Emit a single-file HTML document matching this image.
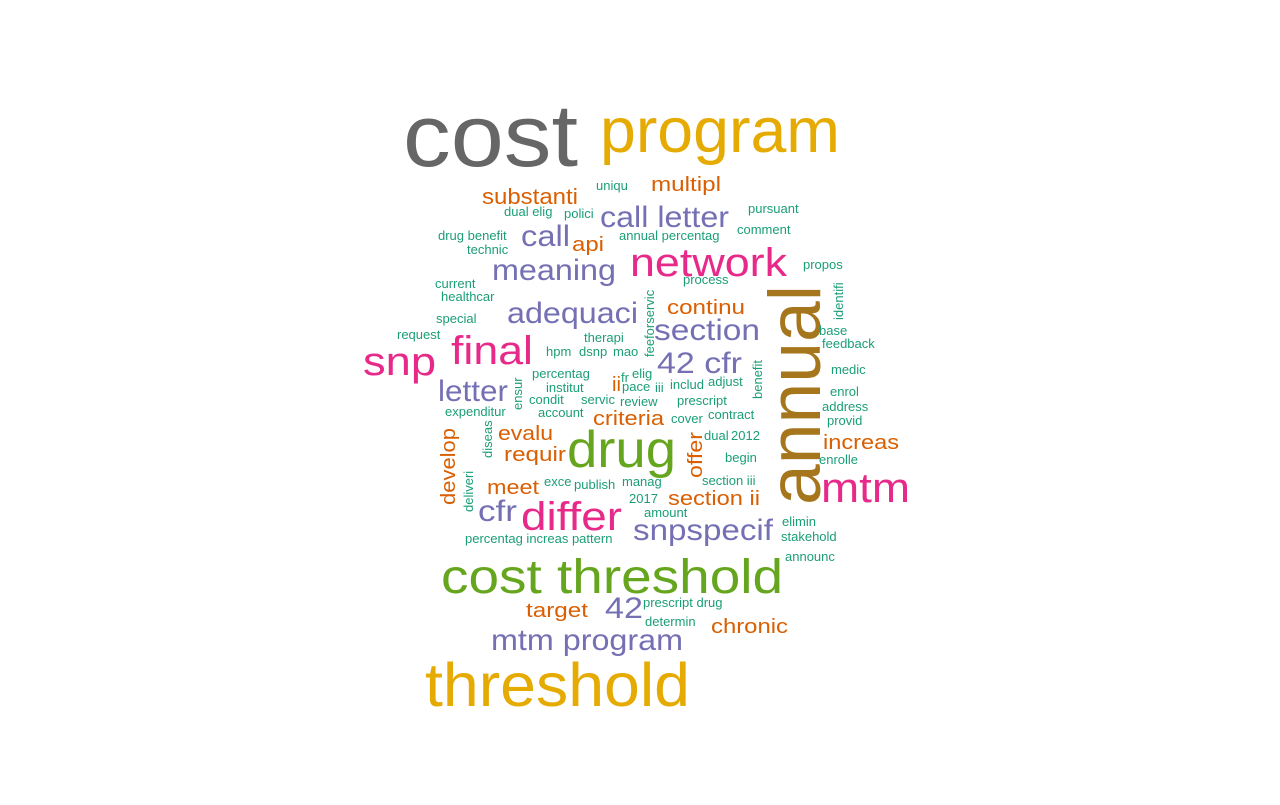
<!DOCTYPE html>
<html><head><meta charset="utf-8"><style>
html,body{margin:0;padding:0;background:#fff;}
svg text{font-family:"Liberation Sans",Arial,sans-serif;}
</style></head><body>
<svg id="cloud" width="1280" height="800" viewBox="0 0 1280 800"></svg>
<script>
// words, colour keys, font sizes, [left x, baseline y, width, rotated]
const words = ["cost","program","threshold","annual","cost threshold","drug","network","mtm","snp","final","differ",
"call letter","call","meaning","adequaci","section","42 cfr","letter","cfr","snpspecif","42","mtm program",
"substanti","multipl","api","continu","ii","criteria","evalu","requir","meet","develop","offer","section ii","increas","target","chronic",
"uniqu","dual elig","polici","pursuant","drug benefit","technic","annual percentag","comment","propos","process","current","healthcar",
"feeforservic","identifi","special","base","request","therapi","feedback","hpm","dsnp","mao","benefit","medic","percentag","fr","elig",
"institut","pace","iii","includ","adjust","ensur","enrol","condit","servic","review","prescript","address","expenditur","account","cover",
"contract","provid","diseas","dual","2012","begin","enrolle","deliveri","exce","publish","manag","section iii","2017","amount","elimin",
"stakehold","percentag increas pattern","announc","prescript drug","determin"];
const colorKeys = ["k","y","y","b","g","g","p","p","p","p","p",
"v","v","v","v","v","v","v","v","v","v","v",
"o","o","o","o","o","o","o","o","o","o","o","o","o","o","o"];
const sizes = [88,63,61,73,48,52,40,42,40,40,40,30,30,30,30,30,30,30,30,30,30,30,
22,20,20,20,20,20,20,20,20,20,20,20,20,20,20];
const layout = [
[403,166,175,0],[600,152,240,0],[425,706,265,0],[820,505,220,1],[441,593,342,0],[567,467,109,0],[630,276,157,0],[821,502,89,0],[363,375,73,0],[451,364,82,0],[521,530,101,0],
[600,227,129,0],[521,246,49,0],[492,280,124,0],[507,323,131,0],[654,340,106,0],[657,373,85,0],[438,401,70,0],[478,521,39,0],[633,540,140,0],[605,618,38,0],[491,650,192,0],
[482,204,96,0],[651,191,70,0],[572,251,32,0],[667,314,78,0],[612,391,9,0],[593,425,71,0],[498,440,55,0],[504,461,62,0],[487,494,52,0],[455,505,77,1],[702,478,46,1],[668,505,92,0],[823,449,76,0],[526,617,62,0],[711,633,77,0],
[596,190,0,0],[504,216,0,0],[564,218,0,0],[748,213,0,0],[438,240,0,0],[467,254,0,0],[619,240,0,0],[737,234,0,0],[803,269,0,0],[683,284,0,0],[435,288,0,0],[441,301,0,0],
[654,357,0,1],[843,320,0,1],[436,323,0,0],[819,335,0,0],[397,339,0,0],[584,342,0,0],[822,348,0,0],[546,356,0,0],[579,356,0,0],[613,356,0,0],[762,399,0,1],[831,374,0,0],[532,378,0,0],[621,382,0,0],[632,378,0,0],
[546,392,0,0],[622,391,0,0],[655,392,0,0],[670,389,0,0],[708,386,0,0],[522,410,0,1],[830,396,0,0],[529,404,0,0],[581,404,0,0],[620,406,0,0],[677,405,0,0],[822,411,0,0],[445,416,0,0],[538,417,0,0],[671,423,0,0],
[708,419,0,0],[827,425,0,0],[492,458,0,1],[704,440,0,0],[731,440,0,0],[725,462,0,0],[819,464,0,0],[473,512,0,1],[544,486,0,0],[574,489,0,0],[622,486,0,0],[702,485,0,0],[629,503,0,0],[644,517,0,0],[782,526,0,0],
[781,541,0,0],[465,543,0,0],[785,561,0,0],[643,607,0,0],[645,626,0,0]];
const palette = {k:"#666666",y:"#E6AB02",b:"#A6761D",g:"#66A61E",p:"#E7298A",v:"#7570B3",o:"#D95F02",t:"#1B9E77"};
const svg = document.getElementById("cloud");
const NS = "http://www.w3.org/2000/svg";
words.forEach((w,i)=>{
  const L = layout[i];
  const t = document.createElementNS(NS,"text");
  
  
  const size = sizes[i] || 13;
  const col = palette[colorKeys[i] || "t"];
  t.setAttribute("font-size", size);
  t.setAttribute("fill", col);
  if (L[3]) {
    t.setAttribute("x", 0); t.setAttribute("y", 0);
    t.setAttribute("transform", "translate(" + L[0] + "," + L[1] + ") rotate(-90)");
  } else {
    t.setAttribute("x", L[0]); t.setAttribute("y", L[1]);
  }
  if (L[2] > 0) {
    t.setAttribute("textLength", L[2]);
    t.setAttribute("lengthAdjust", "spacingAndGlyphs");
  }
  t.textContent = w;
  svg.appendChild(t);
});
</script>
</body></html>
